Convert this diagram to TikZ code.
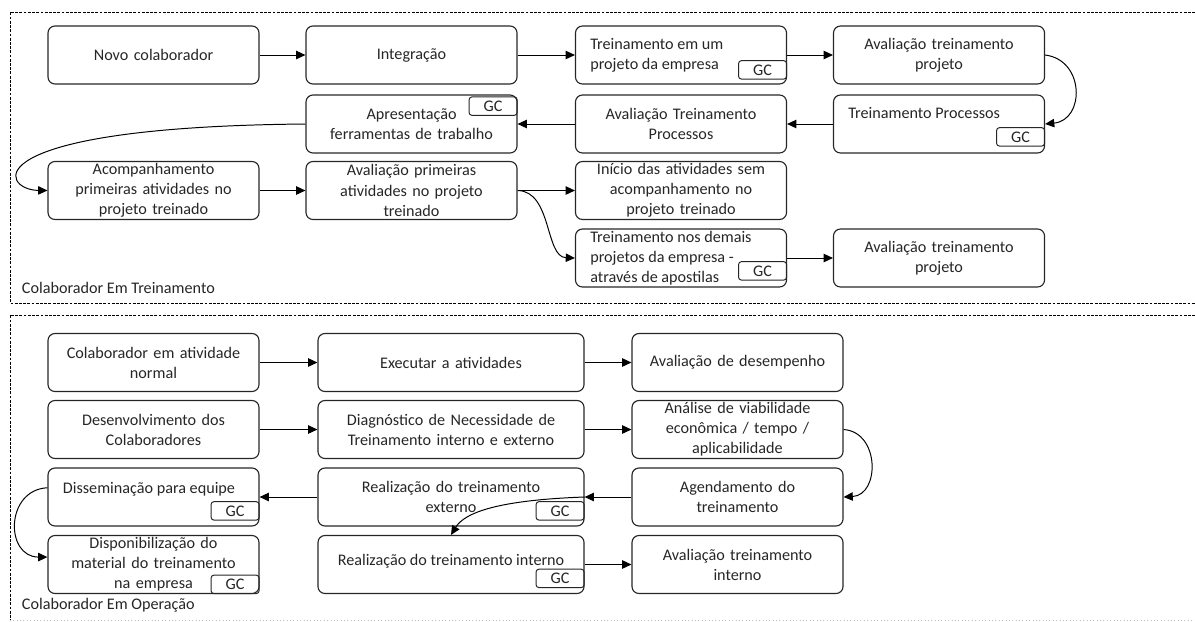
\documentclass[tikz,border=0pt]{standalone}
\usepackage{fontspec}
\setmainfont{Carlito}
\usetikzlibrary{arrows.meta,calc}
\tikzset{
  etapa/.style={draw=black!85,rounded corners=5pt,line width=0.8pt,
                minimum width=5.275cm,minimum height=1.45cm,
                text width=5.15cm,align=center,inner sep=0pt},
  larga/.style={etapa,minimum width=6.65cm,text width=6.4cm},
  gc/.style={draw=black!85,rounded corners=2pt,line width=0.7pt,
             minimum width=1.2cm,minimum height=0.46cm,inner sep=0pt},
  seta/.style={-{Triangle[length=2.3mm,width=2.1mm]},line width=0.7pt},
  quadro/.style={dash pattern=on 2pt off 1pt,line width=0.6pt},
}

\begin{document}
\begin{tikzpicture}[x=0.025cm,y=-0.025cm,font=\fontsize{11.5}{14.3}\selectfont,
                    text=black!85]
  \useasboundingbox (0,0) rectangle (1195,621);
  % frames
  \draw[quadro] (1195,12) -| (10,303) -- (1195,303);
  \draw[quadro] (1195,315) -| (10,620);
  \draw[gray!50,dotted] (10,620) -- (1195,620);

  % Colaborador Em Treinamento
  \foreach \nome/\x/\y/\texto in {
    novo/153.5/55/Novo colaborador,
    integ/411.5/55/Integração,
    avproj/939/55/{Avaliação treinamento\\projeto},
    apres/411.5/124/{Apresentação\\ferramentas de trabalho},
    avproc/681/124/{Avaliação Treinamento\\Processos},
    acomp/153.5/190.5/{Acompanhamento\\primeiras atividades no\\projeto treinado},
    avprim/411.5/190.5/{Avaliação primeiras\\atividades no projeto\\treinado},
    inicio/681/190.5/{Início das atividades sem\\acompanhamento no\\projeto treinado},
    avdem/939/258/{Avaliação treinamento\\projeto}%
  }{
    \node[etapa] (\nome) at (\x,\y) {\texto};
  }
  \node[etapa] (tremp) at (681,55) {};
  \node[anchor=west,align=left,inner sep=0pt] (tremp-t) at (590,55) {Treinamento em um\\projeto da empresa};
  \node[etapa] (trproc) at (939,124) {};
  \node[anchor=west,inner sep=0pt] (trproc-t) at (848,113) {Treinamento Processos};
  \node[etapa] (trdem) at (681,258) {};
  \node[anchor=west,align=left,inner sep=0pt] (trdem-t) at (590,258)
    {Treinamento nos demais\\projetos da empresa -\\através de apostilas};

  \node[gc,anchor=south east] (gc1) at ($(tremp.south east)+(0,-5)$) {GC};
  \node[gc,anchor=north east] (gc2) at ($(apres.north east)+(0,2)$) {GC};
  \node[gc,anchor=south east] (gc3) at ($(trproc.south east)+(0,-7)$) {GC};
  \node[gc,anchor=south east] (gc4) at ($(trdem.south east)+(0,-7)$) {GC};

  \draw[seta] (novo.east) -- (integ.west);
  \draw[seta] (integ.east) -- (tremp.west);
  \draw[seta] (tremp.east) -- (avproj.west);
  \draw[seta] (avproj.east) .. controls (1085,60) and (1085,120) .. (trproc.east);
  \draw[seta] (trproc.west) -- (avproc.east);
  \draw[seta] (avproc.west) -- (apres.east);
  \draw[seta] (apres.west) .. controls (-30,127) and (0,190) .. (acomp.west);
  \draw[seta] (acomp.east) -- (avprim.west);
  \draw[seta] (avprim.east) -- (inicio.west);
  \draw[seta] (avprim.east) .. controls (552,191) and (545,257) .. (trdem.west);
  \draw[seta] (trdem.east) -- (avdem.west);

  \node[anchor=west] (rotulo1) at (17,288) {Colaborador Em Treinamento};

  % Colaborador Em Operacao
  \foreach \nome/\x/\y/\texto in {
    colab/153.5/362.5/{Colaborador em atividade\\normal},
    desenv/153.5/429.5/{Desenvolvimento dos\\Colaboradores},
    dispon/153.5/564.5/{Disponibilização do\\material do treinamento\\na empresa},
    avdes/737.5/362.5/Avaliação de desempenho,
    analise/737.5/429.5/{Análise de viabilidade\\econômica / tempo /\\aplicabilidade},
    agenda/737.5/497/{Agendamento do\\treinamento},
    avint/737.5/564.5/{Avaliação treinamento\\interno}%
  }{
    \node[etapa] (\nome) at (\x,\y) {\texto};
  }
  \foreach \nome/\y/\texto in {
    exec/362.5/Executar a atividades,
    diag/429.5/{Diagnóstico de Necessidade de\\Treinamento interno e externo},
    extern/497/{Realização do treinamento\\externo}%
  }{
    \node[larga] (\nome) at (451,\y) {\texto};
  }
  \node[larga] (intern) at (451,564.5) {};
  \node[inner sep=0pt] (intern-t) at (451,561) {Realização do treinamento interno};
  \node[etapa] (dissem) at (153.5,497) {};
  \node[inner sep=0pt] (dissem-t) at (149,489) {Disseminação para equipe};

  \node[gc,anchor=south east] (gc5) at ($(dissem.south east)+(0,-6)$) {GC};
  \node[gc,anchor=south east] (gc6) at ($(extern.south east)+(0,-6)$) {GC};
  \node[gc,anchor=south east] (gc7) at (dispon.south east) {GC};
  \node[gc,anchor=south east] (gc8) at ($(intern.south east)+(0,-6)$) {GC};

  \draw[seta] (colab.east) -- (exec.west);
  \draw[seta] (exec.east) -- (avdes.west);
  \draw[seta] (desenv.east) -- (diag.west);
  \draw[seta] (diag.east) -- (analise.west);
  \draw[seta] (analise.east) .. controls (880,432) and (880,495) .. (agenda.east);
  \draw[seta] (agenda.west) -- (extern.east);
  \draw[seta] (extern.east) .. controls (500,500) and (465,512) .. (intern.north);
  \draw[seta] (extern.west) -- (dissem.east);
  \draw[seta] (dissem.175) .. controls (5,490) and (5,557) .. (dispon.176);
  \draw[seta] (intern.east) -- (avint.west);

  \node[anchor=west] (rotulo2) at (17,605) {Colaborador Em Operação};
\end{tikzpicture}
\end{document}
